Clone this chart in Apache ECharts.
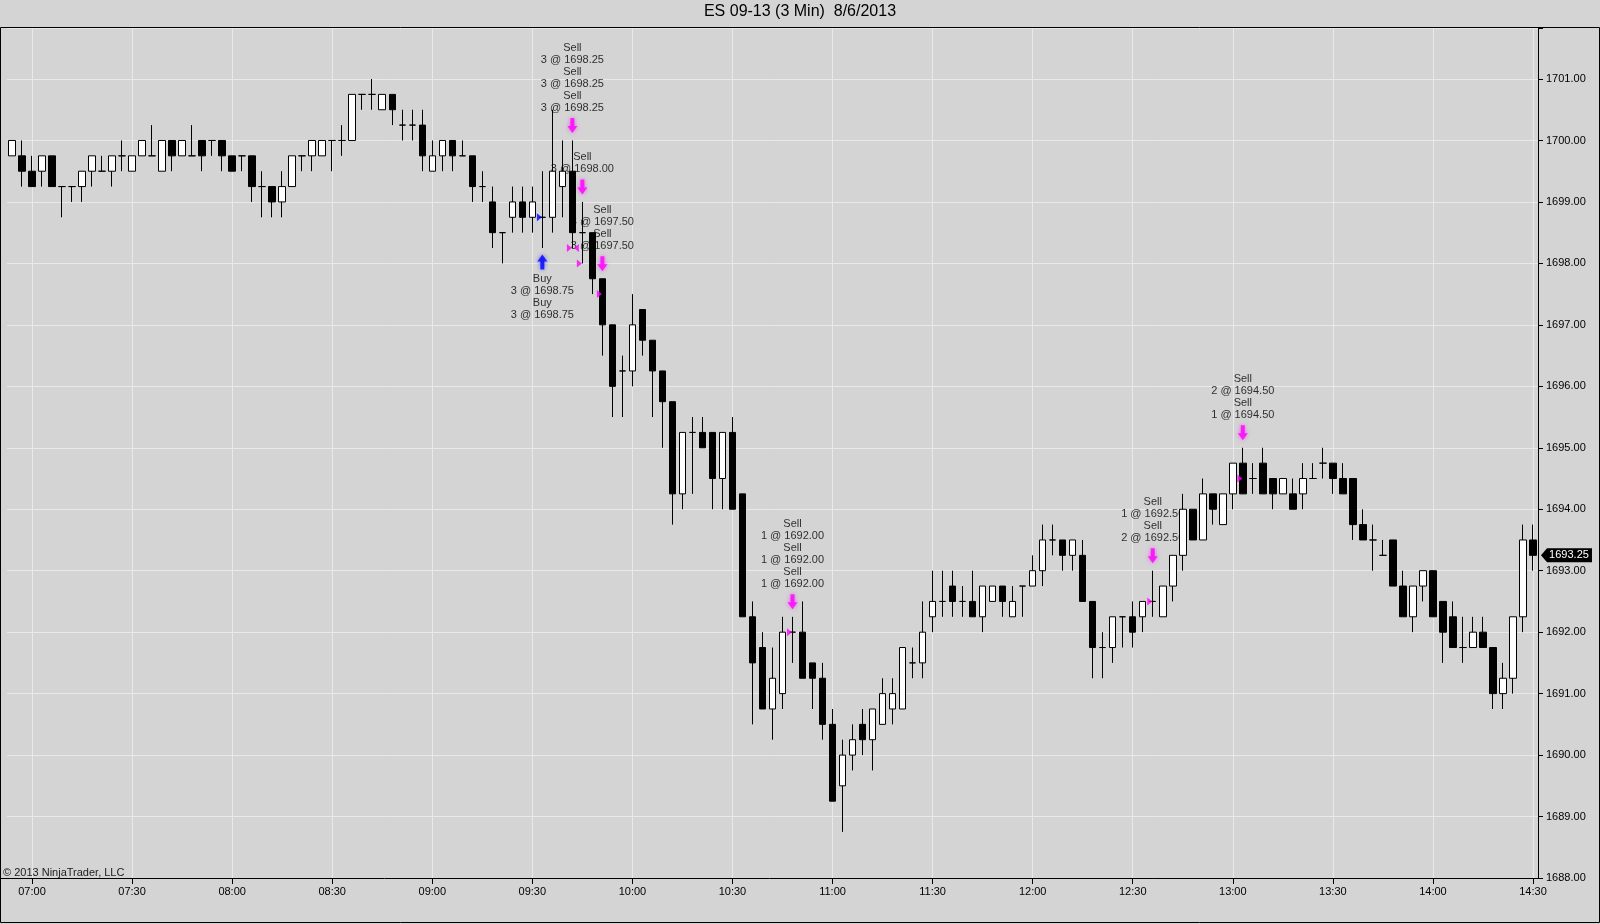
<!DOCTYPE html>
<html>
<head>
<meta charset="utf-8">
<title>ES 09-13 (3 Min) 8/6/2013</title>
<script src="https://cdn.jsdelivr.net/npm/echarts@6/dist/echarts.min.js"></script>
<style>
html, body { margin: 0; padding: 0; background: #d4d4d4; }
#chart { width: 1600px; height: 924px; }
</style>
</head>
<body>
<div id="chart"></div>
<script>
// 3 min bars, time of bar close, 06:54 .. 14:30
var times = []
for (var m = 6 * 60 + 54; m <= 14 * 60 + 30; m += 3) {
    times.push(String(Math.floor(m / 60)).padStart(2, "0") + ":" + String(m % 60).padStart(2, "0"))
}

var gridTimes = ["07:00", "07:30", "08:00", "08:30", "09:00", "09:30", "10:00", "10:30",
    "11:00", "11:30", "12:00", "12:30", "13:00", "13:30", "14:00", "14:30"]

// open, high, low, close
var ohlc = [
    [1699.75, 1700.00, 1699.75, 1700.00], [1699.75, 1700.00, 1699.25, 1699.50],
    [1699.50, 1699.75, 1699.25, 1699.25], [1699.50, 1699.75, 1699.25, 1699.75],
    [1699.75, 1699.75, 1699.25, 1699.25], [1699.25, 1699.25, 1698.75, 1699.25],
    [1699.25, 1699.25, 1699.00, 1699.25], [1699.25, 1699.50, 1699.00, 1699.50],
    [1699.50, 1699.75, 1699.25, 1699.75], [1699.50, 1699.75, 1699.50, 1699.50],
    [1699.50, 1699.75, 1699.25, 1699.75], [1699.75, 1700.00, 1699.50, 1699.75],
    [1699.50, 1699.75, 1699.50, 1699.75], [1699.75, 1700.00, 1699.75, 1700.00],
    [1699.75, 1700.25, 1699.75, 1699.75], [1699.50, 1700.00, 1699.50, 1700.00],
    [1700.00, 1700.00, 1699.50, 1699.75], [1699.75, 1700.00, 1699.75, 1700.00],
    [1699.75, 1700.25, 1699.75, 1699.75], [1700.00, 1700.00, 1699.50, 1699.75],
    [1700.00, 1700.00, 1699.75, 1700.00], [1700.00, 1700.00, 1699.50, 1699.75],
    [1699.75, 1699.75, 1699.50, 1699.50], [1699.75, 1699.75, 1699.50, 1699.75],
    [1699.75, 1699.75, 1699.00, 1699.25], [1699.25, 1699.50, 1698.75, 1699.25],
    [1699.25, 1699.25, 1698.75, 1699.00], [1699.00, 1699.50, 1698.75, 1699.25],
    [1699.25, 1699.75, 1699.25, 1699.75], [1699.75, 1699.75, 1699.50, 1699.75],
    [1699.75, 1700.00, 1699.50, 1700.00], [1699.75, 1700.00, 1699.75, 1700.00],
    [1700.00, 1700.00, 1699.50, 1700.00], [1700.00, 1700.25, 1699.75, 1700.00],
    [1700.00, 1700.75, 1700.00, 1700.75], [1700.75, 1700.75, 1700.50, 1700.75],
    [1700.75, 1701.00, 1700.50, 1700.75], [1700.50, 1700.75, 1700.50, 1700.75],
    [1700.75, 1700.75, 1700.25, 1700.50], [1700.25, 1700.50, 1700.00, 1700.25],
    [1700.25, 1700.50, 1700.00, 1700.25], [1700.25, 1700.50, 1699.50, 1699.75],
    [1699.50, 1700.00, 1699.50, 1699.75], [1699.75, 1700.00, 1699.50, 1700.00],
    [1700.00, 1700.00, 1699.50, 1699.75], [1699.75, 1700.00, 1699.75, 1699.75],
    [1699.75, 1699.75, 1699.00, 1699.25], [1699.25, 1699.50, 1699.00, 1699.25],
    [1699.00, 1699.25, 1698.25, 1698.50], [1698.50, 1698.50, 1698.00, 1698.50],
    [1698.75, 1699.25, 1698.50, 1699.00], [1699.00, 1699.25, 1698.50, 1698.75],
    [1698.75, 1699.25, 1698.50, 1699.00], [1698.75, 1699.50, 1698.25, 1698.75],
    [1698.75, 1700.50, 1698.50, 1699.50], [1699.25, 1700.00, 1698.75, 1699.50],
    [1699.50, 1700.00, 1698.25, 1698.50], [1698.50, 1699.00, 1698.00, 1698.50],
    [1698.50, 1698.50, 1697.50, 1697.75], [1697.75, 1697.75, 1696.50, 1697.00],
    [1697.00, 1697.00, 1695.50, 1696.00], [1696.25, 1696.50, 1695.50, 1696.25],
    [1696.25, 1697.50, 1696.00, 1697.00], [1697.25, 1697.25, 1696.50, 1696.75],
    [1696.75, 1696.75, 1695.50, 1696.25], [1696.25, 1696.25, 1695.00, 1695.75],
    [1695.75, 1695.75, 1693.75, 1694.25], [1694.25, 1695.25, 1694.00, 1695.25],
    [1695.25, 1695.50, 1694.25, 1695.25], [1695.25, 1695.50, 1695.00, 1695.00],
    [1695.25, 1695.25, 1694.00, 1694.50], [1694.50, 1695.25, 1694.00, 1695.25],
    [1695.25, 1695.50, 1694.00, 1694.00], [1694.25, 1694.25, 1692.25, 1692.25],
    [1692.25, 1692.50, 1690.50, 1691.50], [1691.75, 1692.00, 1690.75, 1690.75],
    [1690.75, 1691.75, 1690.25, 1691.25], [1691.00, 1692.25, 1690.75, 1692.00],
    [1692.00, 1692.25, 1691.50, 1692.00], [1692.00, 1692.50, 1691.25, 1691.25],
    [1691.50, 1691.50, 1690.75, 1691.25], [1691.25, 1691.50, 1690.25, 1690.50],
    [1690.50, 1690.75, 1689.25, 1689.25], [1689.50, 1690.25, 1688.75, 1690.00],
    [1690.00, 1690.50, 1689.75, 1690.25], [1690.50, 1690.75, 1690.00, 1690.25],
    [1690.25, 1690.75, 1689.75, 1690.75], [1690.50, 1691.25, 1690.50, 1691.00],
    [1690.75, 1691.25, 1690.50, 1691.00], [1690.75, 1691.75, 1690.75, 1691.75],
    [1691.50, 1691.75, 1691.25, 1691.50], [1691.50, 1692.50, 1691.25, 1692.00],
    [1692.25, 1693.00, 1692.00, 1692.50], [1692.50, 1693.00, 1692.25, 1692.50],
    [1692.75, 1693.00, 1692.25, 1692.50], [1692.50, 1692.75, 1692.25, 1692.50],
    [1692.50, 1693.00, 1692.25, 1692.25], [1692.25, 1692.75, 1692.00, 1692.75],
    [1692.50, 1692.75, 1692.50, 1692.75], [1692.75, 1692.75, 1692.25, 1692.50],
    [1692.25, 1692.75, 1692.25, 1692.50], [1692.75, 1692.75, 1692.25, 1692.75],
    [1692.75, 1693.25, 1692.75, 1693.00], [1693.00, 1693.75, 1692.75, 1693.50],
    [1693.50, 1693.75, 1693.25, 1693.50], [1693.50, 1693.50, 1693.00, 1693.25],
    [1693.25, 1693.50, 1693.00, 1693.50], [1693.25, 1693.50, 1692.50, 1692.50],
    [1692.50, 1692.50, 1691.25, 1691.75], [1691.75, 1692.00, 1691.25, 1691.75],
    [1691.75, 1692.25, 1691.50, 1692.25], [1692.25, 1692.25, 1691.75, 1692.25],
    [1692.25, 1692.50, 1691.75, 1692.00], [1692.25, 1692.50, 1692.00, 1692.50],
    [1692.50, 1693.00, 1692.25, 1692.50], [1692.25, 1692.75, 1692.25, 1692.75],
    [1692.75, 1693.25, 1692.50, 1693.25], [1693.25, 1694.25, 1693.00, 1694.00],
    [1694.00, 1694.00, 1693.50, 1693.50], [1693.50, 1694.50, 1693.50, 1694.25],
    [1694.25, 1694.25, 1693.75, 1694.00], [1693.75, 1694.25, 1693.75, 1694.25],
    [1694.25, 1694.75, 1694.00, 1694.75], [1694.75, 1695.00, 1694.25, 1694.25],
    [1694.50, 1694.75, 1694.25, 1694.50], [1694.75, 1695.00, 1694.25, 1694.25],
    [1694.50, 1694.50, 1694.00, 1694.25], [1694.25, 1694.50, 1694.25, 1694.50],
    [1694.25, 1694.50, 1694.00, 1694.00], [1694.25, 1694.75, 1694.00, 1694.50],
    [1694.50, 1694.75, 1694.50, 1694.50], [1694.75, 1695.00, 1694.50, 1694.75],
    [1694.75, 1694.75, 1694.25, 1694.50], [1694.50, 1694.75, 1694.25, 1694.25],
    [1694.50, 1694.50, 1693.50, 1693.75], [1693.75, 1694.00, 1693.50, 1693.50],
    [1693.50, 1693.75, 1693.00, 1693.50], [1693.25, 1693.50, 1693.25, 1693.25],
    [1693.50, 1693.50, 1692.75, 1692.75], [1692.75, 1693.00, 1692.25, 1692.25],
    [1692.25, 1692.75, 1692.00, 1692.75], [1692.75, 1693.00, 1692.50, 1693.00],
    [1693.00, 1693.00, 1692.25, 1692.25], [1692.50, 1692.50, 1691.50, 1692.00],
    [1692.25, 1692.50, 1691.75, 1691.75], [1691.75, 1692.25, 1691.50, 1691.75],
    [1691.75, 1692.25, 1691.75, 1692.00], [1692.00, 1692.25, 1691.75, 1691.75],
    [1691.75, 1691.75, 1690.75, 1691.00], [1691.00, 1691.50, 1690.75, 1691.25],
    [1691.25, 1692.25, 1691.00, 1692.25], [1692.25, 1693.75, 1692.00, 1693.50],
    [1693.50, 1693.75, 1693.00, 1693.25]
]

// executions
var sellTimes = ["09:42", "09:45", "09:51", "10:48", "12:36", "13:03"]
var sellTexts = [
    "Sell\n3 @ 1698.25\nSell\n3 @ 1698.25\nSell\n3 @ 1698.25",
    "Sell\n3 @ 1698.00",
    "Sell\n3 @ 1697.50\nSell\n3 @ 1697.50",
    "Sell\n1 @ 1692.00\nSell\n1 @ 1692.00\nSell\n1 @ 1692.00",
    "Sell\n1 @ 1692.50\nSell\n2 @ 1692.50",
    "Sell\n2 @ 1694.50\nSell\n1 @ 1694.50"
]
var buyTimes = ["09:33"]
var buyTexts = ["Buy\n3 @ 1698.75\nBuy\n3 @ 1698.75"]
var entryFills = [["09:33", 1698.75]]
var exitFills = [["09:42", 1698.25], ["09:45", 1698.00], ["09:51", 1697.50],
    ["10:48", 1692.00], ["12:36", 1692.50], ["13:03", 1694.50]]
var exitFillsRight = [["09:42", 1698.25]]

var FONT = "'Liberation Sans', Arial, sans-serif"
var GRID_LINE = "#e9e9e9"

function bar(t) { return ohlc[times.indexOf(t)] }

var candles = ohlc.map(function (r) { return [r[0], r[3], r[2], r[1]] })

var arrowDown = "path://M3,0L7,0L7,8L10,8L5,15L0,8L3,8Z"
var arrowUp = "path://M5,0L10,7L7,7L7,15L3,15L3,7L0,7Z"
var triRight = "path://M0,0L6,4L0,8Z"
var triLeft = "path://M6,0L0,4L6,8Z"

var chartDom = document.getElementById("chart")
var myChart = echarts.init(chartDom)

var option = {
    animation: false,
    backgroundColor: "#d4d4d4",
    title: {
        text: "ES 09-13 (3 Min)  8/6/2013",
        left: "center",
        top: 4,
        padding: 0,
        textStyle: { fontFamily: FONT, fontSize: 16, fontWeight: "normal", color: "#000" }
    },
    grid: { left: 7, right: 62, top: 28, bottom: 46 },
    xAxis: {
        type: "category",
        data: times,
        boundaryGap: true,
        axisLine: { show: false },
        axisTick: {
            show: true,
            alignWithLabel: true,
            length: 6,
            interval: function (i) { return (i - 2) % 10 === 0 },
            lineStyle: { color: "#000" }
        },
        axisLabel: {
            interval: function (i) { return (i - 2) % 10 === 0 },
            color: "#000",
            fontFamily: FONT,
            fontSize: 11,
            margin: 8
        },
        splitLine: { show: false }
    },
    yAxis: {
        type: "value",
        position: "right",
        min: 1688,
        max: 1701.83,
        interval: 1,
        axisLine: { show: true, lineStyle: { color: "#000" } },
        axisTick: { show: true, length: 5, lineStyle: { color: "#000" } },
        axisLabel: {
            color: "#000",
            fontFamily: FONT,
            fontSize: 11,
            margin: 8,
            formatter: function (v) { return Number.isInteger(v) ? v.toFixed(2) : "" }
        },
        splitLine: { show: true, lineStyle: { color: GRID_LINE, width: 1 } }
    },
    series: [
        {
            name: "ES 09-13",
            type: "candlestick",
            data: candles,
            barWidth: 7,
            z: 5,
            itemStyle: {
                color: "#ffffff",
                color0: "#000000",
                borderColor: "#000000",
                borderColor0: "#000000",
                borderColorDoji: "#000000",
                borderWidth: 1
            },
            markLine: {
                silent: true,
                z: 1,
                symbol: ["none", "none"],
                label: { show: false },
                lineStyle: { color: GRID_LINE, type: "solid", width: 1 },
                emphasis: { disabled: true },
                data: gridTimes.map(function (t) { return { xAxis: t } })
            }
        },
        {
            name: "Sell",
            type: "scatter",
            z: 3,
            symbol: arrowDown,
            symbolSize: [10, 15],
            symbolOffset: [0, -15],
            itemStyle: { color: "#ff00ff", shadowBlur: 4, shadowColor: "rgba(255,0,255,0.7)" },
            label: {
                show: true,
                position: "top",
                distance: 4,
                color: "#000",
                fontFamily: FONT,
                fontSize: 11,
                lineHeight: 12,
                align: "center"
            },
            data: sellTimes.map(function (t, i) {
                return { value: [t, bar(t)[1]], label: { formatter: sellTexts[i] } }
            })
        },
        {
            name: "Buy",
            type: "scatter",
            z: 3,
            symbol: arrowUp,
            symbolSize: [10, 15],
            symbolOffset: [0, 14],
            itemStyle: { color: "#0000ff", shadowBlur: 4, shadowColor: "rgba(0,0,255,0.6)" },
            label: {
                show: true,
                position: "bottom",
                distance: 3,
                color: "#000",
                fontFamily: FONT,
                fontSize: 11,
                lineHeight: 12,
                align: "center"
            },
            data: buyTimes.map(function (t, i) {
                return { value: [t, bar(t)[2]], label: { formatter: buyTexts[i] } }
            })
        },
        {
            name: "Entry fill",
            type: "scatter",
            z: 6,
            symbol: triRight,
            symbolSize: [5, 8],
            symbolOffset: [-3, 0],
            itemStyle: { color: "#0000ff" },
            data: entryFills
        },
        {
            name: "Exit fill",
            type: "scatter",
            z: 6,
            symbol: triRight,
            symbolSize: [5, 8],
            symbolOffset: [-3, 0],
            itemStyle: { color: "#ff00ff" },
            data: exitFills
        },
        {
            name: "Exit fill 2",
            type: "scatter",
            z: 6,
            symbol: triLeft,
            symbolSize: [5, 8],
            symbolOffset: [4, 0],
            itemStyle: { color: "#ff00ff" },
            data: exitFillsRight
        }
    ]
}
myChart.setOption(option)

// frame, axis line, copyright and last price box
var lastClose = ohlc[ohlc.length - 1][3]
var yLast = myChart.convertToPixel({ yAxisIndex: 0 }, lastClose)
var axisX = 1538
var axisY = 878
myChart.setOption({
    graphic: [
        {
            type: "rect", silent: true,
            shape: { x: 0.5, y: 27.5, width: 1599, height: 895 },
            style: { fill: "none", stroke: "#000", lineWidth: 1 }
        },
        {
            type: "line", silent: true,
            shape: { x1: 0, y1: axisY + 0.5, x2: axisX + 0.5, y2: axisY + 0.5 },
            style: { stroke: "#000", lineWidth: 1 }
        },
        {
            type: "text", silent: true, left: 3, top: 867,
            style: { text: "\u00a9 2013 NinjaTrader, LLC", fill: "#222", font: "11px " + FONT }
        },
        {
            type: "polygon", silent: true,
            shape: {
                points: [[axisX + 3, yLast], [axisX + 9, yLast - 7], [axisX + 54, yLast - 7],
                    [axisX + 54, yLast + 7], [axisX + 9, yLast + 7]]
            },
            style: { fill: "#000" }
        },
        {
            type: "text", silent: true, x: axisX + 31, y: yLast,
            style: {
                text: lastClose.toFixed(2), fill: "#fff", font: "11px " + FONT,
                align: "center", verticalAlign: "middle"
            }
        }
    ]
})
</script>
</body>
</html>
